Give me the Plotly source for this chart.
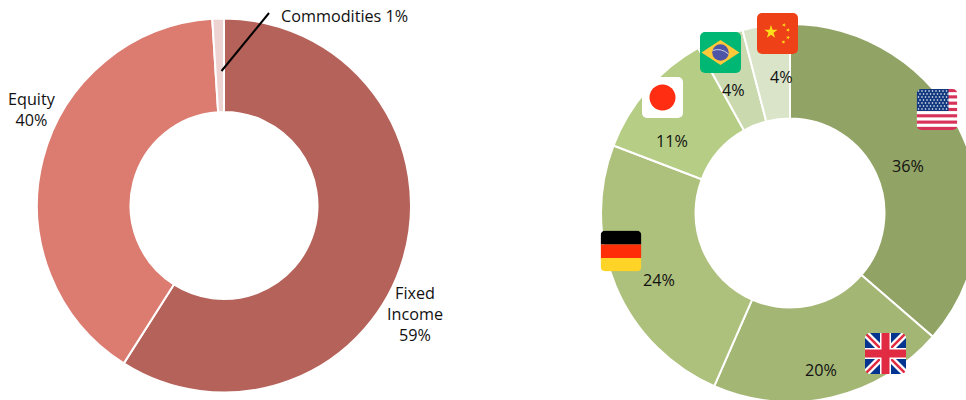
import math
import plotly.graph_objects as go
from urllib.parse import quote

# Data
asset_labels = ["Fixed Income", "Equity", "Commodities"]
asset_values = [59, 40, 1]
asset_colors = ["#B5625A", "#DC7C71", "#EDD3D2"]

country_labels = ["USA", "UK", "Germany", "Japan", "Brazil", "China"]
country_values = [36, 20, 24, 11, 4, 4]
country_colors = ["#91A365", "#A3B674", "#ADC07C", "#B5CD84", "#CBD9AF", "#DAE4C9"]

asset_texts = {"Equity<br>40%": (32, 110), "Fixed<br>Income<br>59%": (414.5, 314)}
commodity_text = "Commodities 1%"
country_texts = ["36%", "20%", "24%", "11%", "4%", "4%"]
country_text_pos = [(908, 166), (821, 370), (659, 280), (672, 141), (733, 90), (781, 77)]

W, H = 1000, 420
FONT = "Open Sans"
FS = 16.2


def px(x):
    return x / W


def py(y):
    return 1 - y / H


def star(cx, cy, r, rot=0):
    pts = []
    for i in range(10):
        a = math.radians(-90 + rot + i * 36)
        rr = r if i % 2 == 0 else r * 0.382
        pts.append(f"{cx + rr * math.cos(a):.2f},{cy + rr * math.sin(a):.2f}")
    return f'<polygon points="{" ".join(pts)}" fill="#FFDE1A"/>'


def svg(body):
    # Rounded flag: the artwork is masked by a rounded square.
    s = ('<svg xmlns="http://www.w3.org/2000/svg" width="164" height="164" viewBox="0 0 41 41">'
         '<defs><mask id="m"><rect width="41" height="41" rx="5" ry="5" fill="white"/></mask></defs>'
         f'<g mask="url(%23m)">{body}</g></svg>')
    return "data:image/svg+xml;charset=utf-8," + quote(s, safe="%")


def us_flag():
    b = '<rect width="41" height="41" fill="#fff"/>'
    h = 41 / 13
    for i in range(0, 13, 2):
        b += f'<rect y="{i * h:.2f}" width="41" height="{h:.2f}" fill="#D7325A"/>'
    b += '<rect width="32" height="22" fill="#12397F"/>'
    for r in range(7):
        for c in range(9):
            b += f'<circle cx="{2 + c * 3.5 + (r % 2) * 1.5:.1f}" cy="{2 + r * 3:.1f}" r="0.8" fill="#fff"/>'
    return svg(b)


def uk_flag():
    b = '<rect width="41" height="41" fill="#03348F"/>'
    b += '<path d="M0 0L41 41M41 0L0 41" stroke="#fff" stroke-width="7"/>'
    b += '<path d="M0 0L41 41M41 0L0 41" stroke="#E02B42" stroke-width="2.5"/>'
    b += '<path d="M20.5 0V41M0 20.5H41" stroke="#fff" stroke-width="11"/>'
    b += '<path d="M20.5 0V41M0 20.5H41" stroke="#E02B42" stroke-width="8"/>'
    return svg(b)


def de_flag():
    b = ('<rect width="41" height="14" fill="#000"/>'
         '<rect y="14" width="41" height="14" fill="#FF2D08"/>'
         '<rect y="27.5" width="41" height="13.5" fill="#FFD426"/>')
    return svg(b)


def jp_flag():
    return svg('<rect width="41" height="41" fill="#fff"/><circle cx="20.5" cy="20.5" r="13" fill="#FF2D12"/>')


def br_flag():
    b = ('<rect width="41" height="41" fill="#00B873"/>'
         '<polygon points="1.5,20.5 20.5,8 39.5,20.5 20.5,33" fill="#FFC93A"/>'
         '<circle cx="20.5" cy="20.5" r="8.3" fill="#4F55A6"/>'
         '<path d="M12.8 18.5Q21 15.5 28.5 22" stroke="#DDE" stroke-width="0.9" fill="none"/>')
    return svg(b)


def cn_flag():
    b = '<rect width="41" height="41" fill="#EE4118"/>'
    b += star(14, 19, 7)
    for x, y in [(27, 12), (31, 17), (31, 24.5), (26.5, 29)]:
        b += star(x, y, 2.2, 20)
    return svg(b)


flags = [
    (us_flag(), 916.5, 89), (uk_flag(), 865, 333), (de_flag(), 600.5, 230.5),
    (jp_flag(), 642, 77), (br_flag(), 700, 32), (cn_flag(), 757, 13),
]


def pie(labels, values, colors, left, right, top, bottom):
    return go.Pie(
        labels=labels, values=values, sort=False, direction="clockwise", rotation=0,
        hole=0.5, textinfo="none", hoverinfo="label+percent",
        marker=dict(colors=colors, line=dict(color="#FFFFFF", width=2)),
        domain=dict(x=[px(left), px(right)], y=[py(bottom), py(top)]),
        showlegend=False,
    )


fig = go.Figure([
    pie(asset_labels, asset_values, asset_colors, 37, 411, 18.5, 392.5),
    pie(country_labels, country_values, country_colors, 601, 979, 24, 402),
])

annotations = []
for t, (x, y) in asset_texts.items():
    annotations.append(dict(text=t, x=px(x), y=py(y), align="center"))
annotations.append(dict(text=commodity_text, x=px(279), y=py(16), xanchor="left"))
for t, (x, y) in zip(country_texts, country_text_pos):
    annotations.append(dict(text=t, x=px(x), y=py(y)))
for a in annotations:
    a.update(xref="paper", yref="paper", showarrow=False, font=dict(family=FONT, size=FS, color="#111111"))
    a.setdefault("xanchor", "center")
    a.setdefault("yanchor", "middle")

fig.update_layout(
    width=W, height=H, margin=dict(l=0, r=0, t=0, b=0, autoexpand=False),
    paper_bgcolor="#FFFFFF", plot_bgcolor="#FFFFFF", annotations=annotations,
    shapes=[dict(type="line", xref="paper", yref="paper", x0=px(221.5), y0=py(71), x1=px(269), y1=py(13),
                 line=dict(color="#000000", width=2))],
    images=[dict(source=s, xref="paper", yref="paper", x=px(x), y=py(y), sizex=41 / W, sizey=41 / H,
                 xanchor="left", yanchor="top", sizing="stretch", layer="above") for s, x, y in flags],
)

fig.write_html(
    "out.html", config={"displayModeBar": False},
    post_script="document.body.style.margin='0';document.documentElement.style.overflow='hidden';",
)
